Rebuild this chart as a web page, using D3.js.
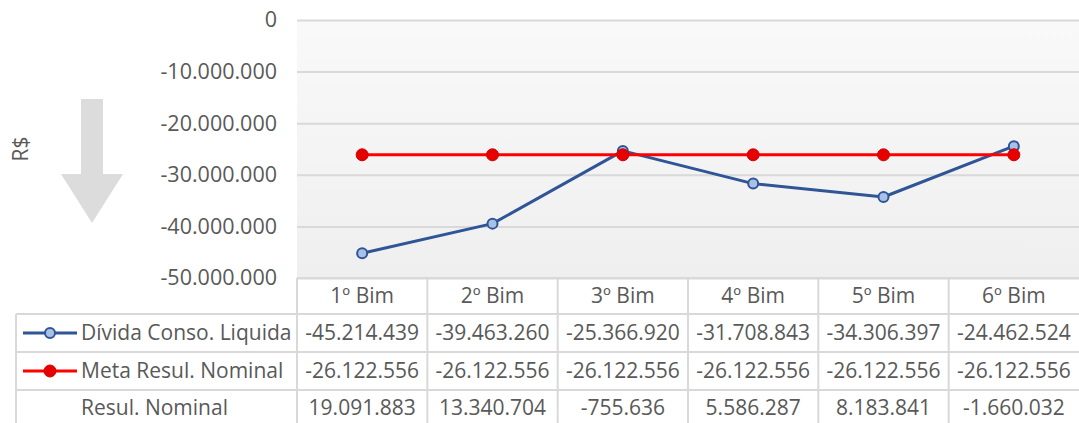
<!DOCTYPE html>
<html>
<head>
<meta charset="utf-8">
<script src="https://cdn.jsdelivr.net/npm/d3@7"></script>
<style>
  html, body { margin: 0; padding: 0; background: #fff; }
  svg { display: block; }
  text { font-family: "Open Sans", "Noto Sans", sans-serif; fill: #595959; }
</style>
</head>
<body>
<svg id="chart" width="1079" height="423"></svg>
<script>
// Bimestres
const categories = ["1º Bim", "2º Bim", "3º Bim", "4º Bim", "5º Bim", "6º Bim"];
// Dívida Consolidada Líquida
const dividaConso = [-45214439, -39463260, -25366920, -31708843, -34306397, -24462524];
// Meta de Resultado Nominal
const metaResul = [-26122556, -26122556, -26122556, -26122556, -26122556, -26122556];
// Resultado Nominal (só na tabela)
const resulNominal = [19091883, 13340704, -755636, 5586287, 8183841, -1660032];
const yTicks = [0, -10000000, -20000000, -30000000, -40000000, -50000000];

const fmt = v => d3.format(",")(v).replace(/,/g, ".").replace("−", "-");

const svg = d3.select("#chart");
const W = 1079, H = 423;
const plot = { left: 297, right: 1079, top: 20, bottom: 278 };
const rows = { header: 278, r1: 314, r2: 352, r3: 390, end: 430 };
const tableLeft = 16;
const cellFont = 21;

const x = d3.scaleBand().domain(categories).range([plot.left, plot.right]);
const y = d3.scaleLinear().domain([-50000000, 0]).range([plot.bottom, plot.top]);

// plot background with a soft vertical gradient
const defs = svg.append("defs");
const grad = defs.append("linearGradient").attr("id", "bg").attr("x1", 0).attr("y1", 0).attr("x2", 0).attr("y2", 1);
grad.append("stop").attr("offset", "0%").attr("stop-color", "#f9f9f9");
grad.append("stop").attr("offset", "100%").attr("stop-color", "#efefef");
svg.append("rect")
  .attr("x", plot.left).attr("y", plot.top)
  .attr("width", plot.right - plot.left).attr("height", plot.bottom - plot.top)
  .attr("fill", "url(#bg)");

// gridlines + tick labels
const yAxis = d3.axisLeft(y).tickValues(yTicks).tickSize(-(plot.right - plot.left)).tickFormat(fmt).tickPadding(20);
const gy = svg.append("g").attr("transform", `translate(${plot.left},0)`).call(yAxis);
gy.select(".domain").remove();
gy.selectAll(".tick line").attr("stroke", "#d9d9d9").attr("stroke-width", 2);
gy.selectAll(".tick text").attr("font-size", 21.5).attr("fill", "#595959")
  .attr("font-family", "'Open Sans', sans-serif").attr("dy", "0.32em");

// axis title
svg.append("text")
  .attr("transform", "translate(28,149) rotate(-90)")
  .attr("text-anchor", "middle")
  .attr("font-size", 21)
  .text("R$");

// decorative down arrow
const arrow = d3.path();
arrow.moveTo(81, 99); arrow.lineTo(103, 99); arrow.lineTo(103, 174); arrow.lineTo(123, 174);
arrow.lineTo(92, 223); arrow.lineTo(61, 174); arrow.lineTo(81, 174); arrow.closePath();
svg.append("path").attr("d", arrow.toString()).attr("fill", "#dcdcdc");

// data table
const tbl = svg.append("g");
const gridColor = "#d9d9d9";
const lineW = 2;
// horizontal rules
[[plot.left, rows.header], [tableLeft, rows.r1], [tableLeft, rows.r2], [tableLeft, rows.r3]].forEach(([x0, yy]) => {
  tbl.append("line").attr("x1", x0).attr("x2", W).attr("y1", yy).attr("y2", yy)
    .attr("stroke", gridColor).attr("stroke-width", lineW);
});
// vertical rules
tbl.append("line").attr("x1", tableLeft).attr("x2", tableLeft).attr("y1", rows.r1).attr("y2", rows.end)
  .attr("stroke", gridColor).attr("stroke-width", lineW);
categories.forEach(c => {
  tbl.append("line").attr("x1", x(c)).attr("x2", x(c)).attr("y1", rows.header).attr("y2", rows.end)
    .attr("stroke", gridColor).attr("stroke-width", lineW);
});

const rowMid = (a, b) => (a + b) / 2;
// header labels
tbl.selectAll(".hdr").data(categories).join("text")
  .attr("x", d => x(d) + x.bandwidth() / 2)
  .attr("y", rowMid(rows.header, rows.r1))
  .attr("dy", "0.35em").attr("text-anchor", "middle").attr("font-size", cellFont)
  .text(d => d);

const series = [
  { name: "Dívida Conso. Liquida", values: dividaConso, top: rows.r1, bottom: rows.r2, key: "blue" },
  { name: "Meta Resul. Nominal", values: metaResul, top: rows.r2, bottom: rows.r3, key: "red" },
  { name: "Resul. Nominal", values: resulNominal, top: rows.r3, bottom: 423 + 34, key: null }
];

const styles = {
  blue: { line: "#2f5597", fill: "#a9c1e6", r: 5, sw: 2 },
  red: { line: "#ff0000", fill: "#e60000", r: 6, sw: 1 }
};

series.forEach(s => {
  const cy = s.key ? rowMid(s.top, s.bottom) : 408;
  tbl.append("text").attr("x", 81).attr("y", cy).attr("dy", "0.35em").attr("font-size", cellFont).text(s.name);
  if (s.key) {
    const st = styles[s.key];
    tbl.append("line").attr("x1", 23).attr("x2", 77).attr("y1", cy).attr("y2", cy)
      .attr("stroke", st.line).attr("stroke-width", 3);
    tbl.append("circle").attr("cx", 50).attr("cy", cy).attr("r", st.r)
      .attr("fill", st.fill).attr("stroke", s.key === "red" ? "#d00000" : st.line).attr("stroke-width", st.sw);
  }
  tbl.selectAll(null).data(s.values).join("text")
    .attr("x", (d, i) => x(categories[i]) + x.bandwidth() / 2)
    .attr("y", cy).attr("dy", "0.35em").attr("text-anchor", "middle").attr("font-size", cellFont)
    .text(d => fmt(d));
});

// series lines and markers
const lineGen = d3.line().x((d, i) => x(categories[i]) + x.bandwidth() / 2).y(d => y(d));
const drawSeries = (vals, key) => {
  const st = styles[key];
  svg.append("path").datum(vals).attr("d", lineGen).attr("fill", "none")
    .attr("stroke", st.line).attr("stroke-width", 3).attr("stroke-linejoin", "round");
  svg.append("g").selectAll("circle").data(vals).join("circle")
    .attr("cx", (d, i) => x(categories[i]) + x.bandwidth() / 2)
    .attr("cy", d => y(d)).attr("r", st.r)
    .attr("fill", st.fill).attr("stroke", key === "red" ? "#d00000" : st.line).attr("stroke-width", st.sw);
};
drawSeries(dividaConso, "blue");
drawSeries(metaResul, "red");
</script>
</body>
</html>
